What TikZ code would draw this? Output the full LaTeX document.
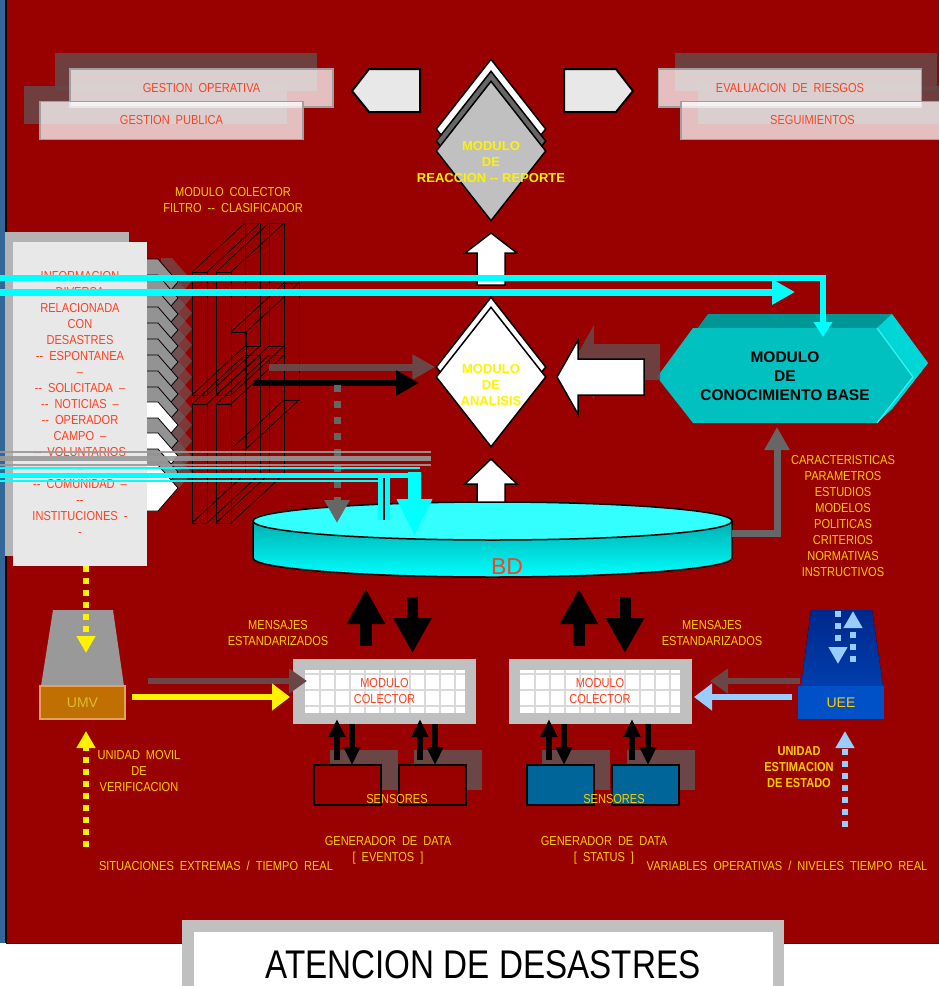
\documentclass[tikz,border=0pt]{standalone}
\usepackage{fontspec}
\setmainfont{Liberation Sans}
\newfontfamily\narrowfont{Liberation Sans}[FakeStretch=0.85]
\newfontfamily\titlefont{Liberation Sans}[FakeStretch=0.83]
\usetikzlibrary{arrows,arrows.meta,positioning,calc,shapes.geometric}

\definecolor{bgred}{RGB}{153,0,0}
\definecolor{stripblue}{RGB}{51,102,153}
\definecolor{shadowbr}{RGB}{107,70,70}
\definecolor{txtred}{RGB}{255,64,32}
\definecolor{gold}{RGB}{255,204,0}
\definecolor{panelgray}{RGB}{232,232,232}
\definecolor{panelshadow}{RGB}{179,179,179}
\definecolor{dimgray}{RGB}{102,102,102}
\definecolor{silver}{RGB}{192,192,192}
\definecolor{aqua}{RGB}{0,255,255}
\definecolor{kbfront}{RGB}{0,192,192}
\definecolor{kbtop}{RGB}{0,150,150}
\definecolor{kbside}{RGB}{0,214,214}
\definecolor{kbedge}{RGB}{60,240,240}
\definecolor{bdtop}{RGB}{51,255,255}
\definecolor{bdside}{RGB}{0,176,176}
\definecolor{skyblue}{RGB}{153,204,255}
\definecolor{umvorange}{RGB}{192,112,0}
\definecolor{umvedge}{RGB}{230,160,90}
\definecolor{umvtext}{RGB}{220,190,40}
\definecolor{ueeblue}{RGB}{0,80,200}
\definecolor{ueetop}{RGB}{0,40,140}
\definecolor{ueebot}{RGB}{0,62,172}
\definecolor{sensblue}{RGB}{0,102,153}

\newcommand{\lblfont}{\narrowfont\fontsize{13}{16}\selectfont\spaceskip 6pt plus 1pt\relax}

\tikzset{
  pics/blockarr/.style args={#1/#2/#3/#4}{code={%
    \path[pic actions] (0,-#2) -- ({#1-#4},-#2) -- ({#1-#4},-#3) -- (#1,0)
      -- ({#1-#4},#3) -- ({#1-#4},#2) -- (0,#2) -- cycle;}},
}

\begin{document}
\begin{tikzpicture}[x=1pt, y=-1pt,
    lbl/.style={font=\lblfont, text=gold, align=center, inner sep=0pt},
    redlbl/.style={lbl, text=txtred},
    ylbl/.style={font=\bfseries\fontsize{13}{16}\selectfont, text=yellow, align=center, inner sep=0pt},
    tabbox/.style={draw=gray!75, line width=1.5pt, fill=white, fill opacity=0.75, text opacity=1,
        text=txtred, font=\lblfont, minimum width=263pt, minimum height=38pt, inner sep=0pt},
    tabshadow/.style={fill=shadowbr, fill opacity=0.9},
    penta/.style={fill=panelgray, draw=black, line width=2pt},
    dmd/.style={diamond, draw=black, line width=1.5pt, minimum width=110pt, minimum height=140pt, inner sep=0pt},
    wire/.style={draw=black, line width=0.7pt},
    sensor/.style={draw=black, line width=2pt, minimum width=67pt, minimum height=40pt, inner sep=0pt},
    colbox/.style={fill=silver, minimum width=183pt, minimum height=65pt, inner sep=0pt},
    gridln/.style={draw=gray!30, line width=2pt},
    sqdots/.style={line width=6pt, dash pattern=on 6pt off 6pt},
    arrhead/.style args={#1/#2}{-{Triangle[length=#1pt,width=#2pt]}},
  ]

% frame
\useasboundingbox (0,0) rectangle (939,986);
\fill[white] (0,0) rectangle (939,986);
\fill[bgred] (6,0) rectangle (939,943);
\fill[stripblue] (0,0) rectangle (5,943);
\draw[black, line width=1.5pt] (6,0) -- (6,943);
\draw[black!60!bgred, line width=1pt] (6,943.5) -- (939,943.5);

% title
\fill[silver] (182,920) rectangle (784,986);
\fill[white] (194,932) rectangle (773,986);
\node[font=\titlefont\fontsize{40}{46}\selectfont, inner sep=0pt] (title) at (483,964.5) {ATENCION DE DESASTRES};

% top tabs
\fill[tabshadow] (55,53) rectangle (317,91);
\fill[tabshadow] (24,86) rectangle (287,124);
\fill[tabshadow] (675,53) rectangle (937,91);
\fill[tabshadow] (698,86) rectangle (961,124);
\node[tabbox] (gop) at (201.5,88) {GESTION OPERATIVA};
\node[tabbox] (gpu) at (171.5,120.5) {GESTION PUBLICA};
\node[tabbox] (eva) at (790,88) {EVALUACION DE RIESGOS};
\node[tabbox] (seg) at (812.5,120.5) {SEGUIMIENTOS};
\draw[penta] (352,91) -- (369,69) -- (420,69) -- (420,112) -- (369,112) -- cycle;
\draw[penta] (564,69) -- (616,69) -- (633,91) -- (616,112) -- (564,112) -- cycle;

% reaction module
\node[dmd, fill=white] (reacw) at (491,129) {};
\node[dmd, fill=dimgray] (reacg) at (491,141) {};
\node[dmd, fill=silver] (reac) at (491,151) {};
\node[ylbl] (reaclbl) at (491,162) {MODULO\\DE\\REACCION -{}- REPORTE};

% analysis module
\node[dmd, fill=white] (analb) at (491,367) {};
\node[dmd, fill=white] (anal) at (491,377) {};
\node[ylbl] (anallbl) at (491,385) {MODULO\\DE\\ANALISIS};
\pic[draw=black, fill=white, line width=1.5pt, rotate=90] at (491,285) {blockarr=52/14/26/20};
\pic[draw=black, fill=white, line width=1.5pt, rotate=90] at (491,523) {blockarr=64/14/26/25};

% knowledge base
\fill[kbtop] (672,363) -- (708,314) -- (892,314) -- (928,363) -- (892,409) -- (708,409) -- cycle;
\fill[kbside] (877,328) -- (892,314) -- (928,363) -- (892,409) -- (877,423) -- (913,377) -- cycle;
\fill[kbfront] (657,377) -- (693,328) -- (877,328) -- (913,377) -- (877,423) -- (693,423) -- cycle;
\draw[kbedge, line width=1.2pt] (877,328) -- (913,377) -- (877,423);
\node[font=\bfseries\fontsize{15.5}{19}\selectfont, align=center, inner sep=0pt] (kb) at (785,376)
  {MODULO\\DE\\CONOCIMIENTO BASE};
\pic[fill=shadowbr, fill opacity=0.9, rotate=180] at (660,362) {blockarr=87/18/37/21};
\pic[draw=black, fill=white, line width=1.5pt, rotate=180] at (644,377) {blockarr=87/18/37/21};

% data base
\fill[top color=bdside, bottom color=aqua] (253,521) -- (253,558)
  arc[start angle=180, end angle=360, x radius=239.5pt, y radius=19pt] -- (732,521) -- cycle;
\draw[black, line width=1.5pt] (253,521) -- (253,558)
  arc[start angle=180, end angle=360, x radius=239.5pt, y radius=19pt] -- (732,521);
\draw[black, line width=1.5pt, fill=bdtop] (492.5,521) ellipse [x radius=239.5pt, y radius=19pt];
\node[font=\fontsize{23}{26}\selectfont, text=txtred, inner sep=0pt] (bd) at (507,567) {BD};
\draw[dimgray, line width=7pt, arrhead=23/24] (732,533) -| (777,427);

% information panel
\fill[panelshadow] (5,232) rectangle (129,556);
\fill[panelgray] (13,242) rectangle (147,566);
\node[redlbl] (info) at (80,403.5) {INFORMACION\\DIVERSA\\RELACIONADA\\CON\\DESASTRES\\
  -{}- ESPONTANEA\\–\\-{}- SOLICITADA –\\-{}- NOTICIAS –\\-{}- OPERADOR\\CAMPO –\\
  -{}- VOLUNTARIOS\\–\\-{}- COMUNIDAD –\\-{}-\\INSTITUCIONES -\\-};
\foreach \cy in {258,274,...,450}
  \fill[dimgray, opacity=0.55] (161,\cy) -- (172,\cy) -- (192,\cy+23) -- (172,\cy+46) -- (161,\cy+46) -- cycle;
\foreach \cy/\cc in {259/gray!85, 275/gray!85, 291/gray!85, 307/gray!85, 323/gray!85, 339/gray!85,
    355/gray!85, 371/gray!85, 387/gray!85, 402/white, 418/gray!85, 433/white, 449/gray!85, 465/white}
  \filldraw[fill=\cc, draw=black, line width=0.8pt] (147,\cy) -- (158,\cy) -- (178,\cy+23) -- (158,\cy+46) -- (147,\cy+46);

% collector / filter planes
\node[lbl] (filt) at (233,200.5) {MODULO COLECTOR\\FILTRO -{}- CLASIFICADOR};
\foreach \fx/\ya/\yb in {192/272/395, 192/404/523, 216/272/395, 216/404/523, 231/332/449} {
  \draw[wire] (\fx,\ya) rectangle (\fx+15,\yb);
  \draw[wire] (\fx+53,\ya-49) rectangle (\fx+68,\yb-49);
  \draw[wire] (\fx,\ya) -- (\fx+53,\ya-49) (\fx+15,\ya) -- (\fx+68,\ya-49)
              (\fx,\yb) -- (\fx+53,\yb-49) (\fx+15,\yb) -- (\fx+68,\yb-49);
}
\draw[shadowbr, line width=7pt, arrhead=23/24] (269,367) -- (analb.west);
\draw[black, line width=6pt, arrhead=23/24] (253,383) -- (419,383);
\draw[dimgray, line width=7pt, dash pattern=on 7pt off 9pt, arrhead=23/24] (337,385) -- (337,523);

% feeds
\draw[gray!80, line width=2pt, opacity=0.9] (0,452) -- (431,452);
\draw[gray!80, line width=5pt, opacity=0.9] (0,458) -- (431,458);
\draw[gray!80, line width=2pt, opacity=0.9] (0,465) -- (431,465);
\draw[aqua, line width=6pt, arrhead=15/18] (0,278) -| (823,337);
\draw[aqua, line width=7pt, arrhead=23/24] (0,292) -- (795,292);
\draw[aqua, line width=2.5pt] (0,468) -- (420,468);
\draw[aqua, line width=2.5pt] (0,481) -- (384,481);
\fill[aqua] (378,473) rectangle (390,520);
\draw[black, line width=1.5pt] (384,475) -- (384,520);
\draw[aqua, line width=5pt] (0,475) -- (421,475);
\pic[fill=aqua, rotate=-90] at (414.5,472) {blockarr=63/6.5/18/36};

% knowledge list
\node[lbl] (crit) at (843,516) {CARACTERISTICAS\\PARAMETROS\\ESTUDIOS\\MODELOS\\POLITICAS\\CRITERIOS\\NORMATIVAS\\INSTRUCTIVOS};

% messages between data base and collectors
\draw[black, line width=12pt, arrhead=35/36] (366,646) -- (366,589);
\draw[black, line width=11pt, arrhead=35/36] (412.5,597) -- (412.5,653);
\draw[black, line width=12pt, arrhead=35/36] (579,646) -- (579,589);
\draw[black, line width=11pt, arrhead=35/36] (625,597) -- (625,653);
\node[lbl] (msgL) at (278,633) {MENSAJES\\ESTANDARIZADOS};
\node[lbl] (msgR) at (712,633) {MENSAJES\\ESTANDARIZADOS};

% collectors
\node[colbox] (colL) at (384.5,691.5) {};
\node[colbox] (colR) at (600,691.5) {};
\foreach \cx in {384.5,600} {
  \fill[white] (\cx-80,670) rectangle (\cx+80,713);
  \foreach \i in {1,...,10} \draw[gridln] (\cx-80+15*\i,670) -- (\cx-80+15*\i,713);
  \foreach \gy in {674,690,706} \draw[gridln] (\cx-80,\gy) -- (\cx+80,\gy);
}
\node[redlbl] (colLlbl) at (colL) {MODULO\\COLECTOR};
\node[redlbl] (colRlbl) at (colR) {MODULO\\COLECTOR};

% sensors
\foreach \sx in {330,414,542,627} \fill[shadowbr] (\sx,750) rectangle (\sx+68,790);
\node[sensor, fill=bgred] (senL1) at (347.5,785) {};
\node[sensor, fill=bgred] (senL2) at (432,785) {};
\node[sensor, fill=sensblue] (senR1) at (560,785) {};
\node[sensor, fill=sensblue] (senR2) at (645,785) {};
\foreach \ux in {337,420,549,632} \draw[black, line width=6pt, arrhead=18/16] (\ux,760) -- (\ux,719);
\foreach \dx in {352,435,564,648} \draw[black, line width=6pt, arrhead=18/16] (\dx,724) -- (\dx,765);
\node[lbl] (senLlbl) at (397,799) {SENSORES};
\node[lbl] (senRlbl) at (614,799) {SENSORES};
\node[lbl] (genL) at (388,850.5) {GENERADOR DE DATA\\{[} EVENTOS ]};
\node[lbl] (genR) at (604,850.5) {GENERADOR DE DATA\\{[} STATUS ]};

% mobile unit
\fill[gray!80] (53,610) -- (113,610) -- (124,686) -- (41,686) -- cycle;
\node[draw=umvedge, line width=1.5pt, fill=umvorange, minimum width=85pt, minimum height=33pt,
  inner sep=0pt, font=\fontsize{14}{16}\selectfont, text=umvtext] (umv) at (82.5,702.5) {UMV};
\draw[yellow, sqdots, arrhead=17/18] (86,566) -- (86,653);
\draw[yellow, sqdots, arrhead=17/18] (86,847) -- (86,731);
\draw[shadowbr, line width=6pt, arrhead=18/24] (148,681) -- (307,681);
\draw[yellow, line width=6pt, arrhead=18/26] (132,697) -- (290,697);
\node[lbl] (umvlbl) at (139,771) {UNIDAD MOVIL\\DE\\VERIFICACION};
\node[lbl] (sitlbl) at (216,866) {SITUACIONES EXTREMAS / TIEMPO REAL};

% state estimation unit
\fill[top color=ueetop, bottom color=ueebot] (811,610) -- (872,610) -- (883,686) -- (801,686) -- cycle;
\node[fill=ueeblue, minimum width=86pt, minimum height=33pt, inner sep=0pt,
  font=\fontsize{14}{16}\selectfont, text=gold] (uee) at (841,702.5) {UEE};
\draw[skyblue, sqdots, arrhead=17/18] (853,662) -- (853,611);
\draw[skyblue, sqdots, arrhead=17/18] (838,611) -- (838,664);
\draw[skyblue, sqdots, arrhead=17/18] (845,827) -- (845,731);
\draw[shadowbr, line width=6pt, arrhead=18/24] (800,681) -- (710,681);
\draw[skyblue, line width=6pt, arrhead=18/26] (792,697) -- (694,697);
\node[lbl, font=\narrowfont\bfseries\fontsize{13}{16}\selectfont] (ueelbl) at (799,767) {UNIDAD\\ESTIMACION\\DE ESTADO};
\node[lbl] (varlbl) at (787,866) {VARIABLES OPERATIVAS / NIVELES TIEMPO REAL};
\end{tikzpicture}
\end{document}
